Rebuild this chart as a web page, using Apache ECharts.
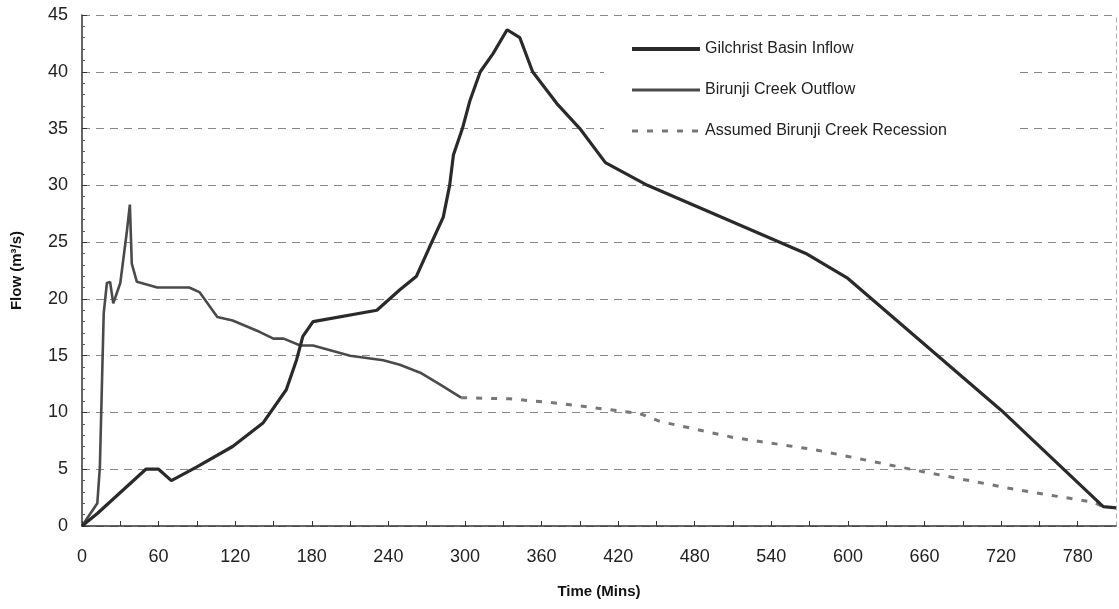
<!DOCTYPE html>
<html>
<head>
<meta charset="utf-8">
<script src="https://cdn.jsdelivr.net/npm/echarts@6/dist/echarts.min.js"></script>
<style>
html, body { margin: 0; padding: 0; background: #fff; }
#chart_flow { width: 1119px; height: 609px; }
</style>
</head>
<body>
<div id="chart_flow"></div>
<script>
// Gilchrist Basin Inflow
var inflowTime = [0, 12, 50, 60, 70, 90, 118, 142, 160, 168, 173, 181, 231, 249, 262, 272, 283, 288, 291, 298, 304, 312, 322, 333, 343, 353, 372, 390, 410, 443, 567, 600, 720, 800, 810];
var inflowFlow = [0, 1.1, 5, 5, 4, 5.2, 7, 9.1, 12, 14.6, 16.7, 18, 19, 20.8, 22, 24.5, 27.2, 30, 32.7, 35, 37.5, 40, 41.6, 43.7, 43, 40, 37.2, 35, 32, 30, 24, 21.8, 10.2, 1.7, 1.6];

// Birunji Creek Outflow
var outflowTime = [0, 12, 14, 17, 19.5, 22, 24.5, 30, 35, 37.5, 39, 43, 59, 84, 92, 106, 118, 139, 150, 158, 171, 181, 210, 236, 249, 265, 280, 297];
var outflowFlow = [0, 2, 5.2, 18.7, 21.4, 21.5, 19.6, 21.4, 25.8, 28.3, 23.1, 21.5, 21, 21, 20.6, 18.4, 18.1, 17.1, 16.5, 16.5, 15.9, 15.9, 15, 14.6, 14.2, 13.5, 12.5, 11.3];

// Assumed Birunji Creek Recession
var recessionTime = [297, 335, 374, 437, 453, 510, 575, 658, 732, 792, 800];
var recessionFlow = [11.3, 11.2, 10.8, 9.9, 9.2, 7.8, 6.7, 4.8, 3.2, 2.1, 1.7];

var seriesNames = ['Gilchrist Basin Inflow', 'Birunji Creek Outflow', 'Assumed Birunji Creek Recession'];

function pairs(xs, ys) {
    return xs.map(function (x, i) { return [x, ys[i]]; });
}

var chart_flow = echarts.init(document.getElementById('chart_flow'));

var font = 'Liberation Sans, Arial, sans-serif';

var chart_flow_option = {
    backgroundColor: '#fff',
    animation: false,
    textStyle: { fontFamily: font },
    grid: { left: 82, right: 3, top: 15, bottom: 83, containLabel: false, outerBoundsMode: 'none' },
    legend: {
        orient: 'vertical',
        left: 604,
        top: 29,
        padding: [12, 70, 12, 26],
        backgroundColor: '#fff',
        itemWidth: 68,
        itemHeight: 12,
        itemGap: 25,
        data: [
            { name: seriesNames[0], lineStyle: { width: 4 } },
            { name: seriesNames[1], lineStyle: { width: 3 } },
            { name: seriesNames[2], lineStyle: { width: 3 } }
        ],
        itemStyle: { opacity: 0 },
        textStyle: { fontSize: 16, color: '#222', fontFamily: font }
    },
    xAxis: {
        type: 'value',
        min: 0,
        max: 810,
        interval: 30,
        name: 'Time (Mins)',
        nameLocation: 'middle',
        nameGap: 58,
        nameTextStyle: { fontSize: 15, fontWeight: 'bold', color: '#111' },
        axisLine: { lineStyle: { color: '#333', width: 1.5 } },
        axisTick: { inside: true, length: 5, lineStyle: { color: '#333' } },
        axisLabel: {
            margin: 22,
            fontSize: 18,
            color: '#222',
            showMaxLabel: false,
            formatter: function (v) { return v % 60 === 0 ? String(v) : ''; }
        },
        splitLine: { show: false }
    },
    yAxis: [{
        type: 'value',
        min: 0,
        max: 45,
        interval: 5,
        name: 'Flow (m\u00b3/s)',
        nameLocation: 'middle',
        nameGap: 58,
        nameTextStyle: { fontSize: 15, fontWeight: 'bold', color: '#111' },
        axisLine: { show: true, lineStyle: { color: '#333', width: 1.5 } },
        axisTick: { show: true, inside: true, length: 5, lineStyle: { color: '#333' } },
        minorTick: { show: true, splitNumber: 5, length: 3, lineStyle: { color: '#555' } },
        axisLabel: { margin: 14, fontSize: 18, color: '#222' },
        splitLine: { show: true, lineStyle: { type: [8, 6], color: '#888', width: 1 } }
    }, {
        type: 'value',
        min: 0,
        max: 45,
        interval: 5,
        position: 'right',
        axisLine: { show: true, lineStyle: { type: [4, 4], color: '#aaa', width: 1 } },
        axisTick: { show: false },
        axisLabel: { show: false },
        splitLine: { show: false }
    }],
    series: [
        {
            name: seriesNames[0],
            type: 'line',
            symbol: 'none',
            data: pairs(inflowTime, inflowFlow),
            lineStyle: { color: '#2a2a2a', width: 3.2 },
            itemStyle: { color: '#2a2a2a' },
            z: 3
        },
        {
            name: seriesNames[1],
            type: 'line',
            symbol: 'none',
            data: pairs(outflowTime, outflowFlow),
            lineStyle: { color: '#4a4a4a', width: 2.6 },
            itemStyle: { color: '#4a4a4a' },
            z: 2
        },
        {
            name: seriesNames[2],
            type: 'line',
            symbol: 'none',
            data: pairs(recessionTime, recessionFlow),
            lineStyle: { color: '#777', width: 3, type: [6, 9] },
            itemStyle: { color: '#777' },
            z: 2
        }
    ]
};

chart_flow.setOption(chart_flow_option);
</script>
</body>
</html>
